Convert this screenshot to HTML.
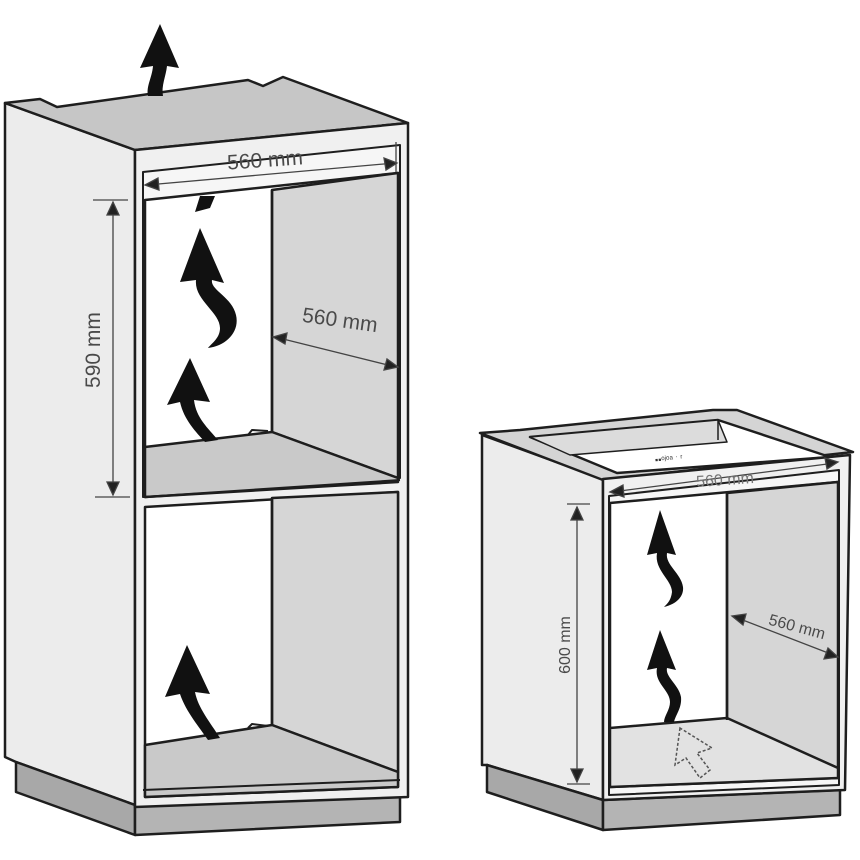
<!DOCTYPE html>
<html><head><meta charset="utf-8"><style>html,body{margin:0;padding:0;background:#fff}svg{display:block}</style></head>
<body>
<svg width="860" height="860" viewBox="0 0 860 860" xmlns="http://www.w3.org/2000/svg" font-family="Liberation Sans, sans-serif">
<g stroke="#1e1e1e" stroke-width="2.5" stroke-linejoin="round" fill="none">
<!-- TALL CABINET -->
<polygon points="5,103 135,150 135,805 16,762 5,757" fill="#ececec"/>
<polygon points="16,762 135,805 135,835 16,792" fill="#a8a8a8"/>
<polygon points="135,805 400,797 400,822 135,835" fill="#b4b4b4"/>
<polygon points="5,103 40,99 57,107 248,80 263,86 283,77 408,123 135,150" fill="#c6c6c6"/>
<polygon points="135,150 408,123 408,797 135,807" fill="#f0f0f0"/>
<polygon points="143,172 400,145 400,478 143,497" fill="#f6f6f6" stroke-width="2"/>
<polygon points="145,200 398,173 398,480 145,497" fill="#fff"/>
<polygon points="272,190 398,173 398,478 272,432" fill="#d6d6d6"/>
<polygon points="145,447 272,432 398,478 398,482 145,497" fill="#c9c9c9"/>
<line x1="272" y1="190" x2="272" y2="432"/>
<polyline points="248,435 252,430 268,431" stroke-width="2"/>
<line x1="143" y1="497" x2="400" y2="480" stroke-width="2"/>
<polygon points="145,507 398,492 398,787 145,797" fill="#fff"/>
<polygon points="272,498 398,492 398,772 272,725" fill="#d6d6d6"/>
<polygon points="145,745 272,725 398,772 398,787 145,797" fill="#c9c9c9"/>
<line x1="272" y1="498" x2="272" y2="725"/>
<polyline points="248,728 252,724 268,726" stroke-width="2"/>
<line x1="143" y1="790" x2="400" y2="780" stroke-width="2"/>
</g>
<g stroke="#444" stroke-width="1.3" fill="#222">
<line x1="147" y1="185" x2="395" y2="163"/>
<polygon points="145,185 158,178 159,190"/>
<polygon points="397,163 384,158 386,170"/>
<line x1="396" y1="142" x2="396" y2="172"/>
<line x1="113" y1="202" x2="113" y2="495"/>
<line x1="93" y1="200" x2="128" y2="200"/>
<line x1="95" y1="497" x2="130" y2="497"/>
<polygon points="113,202 107,215 119,215"/>
<polygon points="113,495 107,482 119,482"/>
<line x1="275" y1="337" x2="396" y2="367"/>
<polygon points="273,337 287,333 285,344"/>
<polygon points="398,367 384,370 387,359"/>
</g>
<g fill="#4a4a4a" font-size="21">
<text x="265" y="167" text-anchor="middle" transform="rotate(-4 265 160)">560 mm</text>
<text x="340" y="327" text-anchor="middle" transform="rotate(8 340 320)">560 mm</text>
<text x="100" y="350" text-anchor="middle" transform="rotate(-90 100 350)">590 mm</text>
</g>
<g fill="#111">
<path d="M160,24 L140,68 L153,66 C152,78 146,86 148,96 L163,96 C161,86 166,76 167,66 L179,68 Z"/>
<polygon points="200,196 215,196 210,208 195,212"/>
<path d="M200,228 L180,282 L196,280 C194,300 220,312 220,328 C220,338 212,343 208,348 C226,346 240,332 236,315 C232,297 210,290 212,280 L224,283 Z"/>
<path d="M190,358 L167,405 L180,402 C184,420 196,432 205,442 L218,440 C208,428 196,418 194,400 L210,402 Z"/>
<path d="M187,645 L165,697 L180,694 C186,712 200,728 208,740 L220,738 C210,722 198,708 195,692 L210,694 Z"/>
</g>
<!-- SMALL CABINET -->
<g stroke="#1e1e1e" stroke-width="2.5" stroke-linejoin="round" fill="none">
<polygon points="482,435 603,479 603,800 487,765 482,765" fill="#ececec"/>
<polygon points="487,765 603,800 603,830 487,792" fill="#a8a8a8"/>
<polygon points="603,800 840,790 840,815 603,830" fill="#b4b4b4"/>
<!-- top frame rails -->
<polygon points="480,433 520,430 713,410 737,410 853,452 603,480" fill="#d4d4d4"/>
<polygon points="530,437 718,420 830,457 617,473" fill="#fff" stroke-width="2.5"/>
<polygon points="530,437 718,420 727,442 570,455" fill="#dcdcdc" stroke-width="1.5"/>
<line x1="718" y1="420" x2="718" y2="440" stroke-width="1.5"/>
<polygon points="603,479 850,455 845,790 603,800" fill="#f0f0f0"/>
<polygon points="609,496 839,470 839,785 609,795" fill="#f6f6f6" stroke-width="2"/>
<polygon points="610,503 838,482 838,778 610,787" fill="#fff"/>
<polygon points="727,493 838,482 838,768 727,720" fill="#d6d6d6"/>
<polygon points="610,728 727,718 838,768 838,778 610,787" fill="#e2e2e2"/>
<line x1="727" y1="493" x2="727" y2="720"/>
</g>
<text x="655" y="463" font-size="9" fill="#333" transform="rotate(-5 655 460)">▪▪ᵒʲᵒᵃ ˑ ʳ</text>
<g stroke="#444" stroke-width="1.3" fill="#222">
<line x1="612" y1="492" x2="835" y2="463"/>
<polygon points="610,492 623,485 624,497"/>
<polygon points="838,462 825,458 827,469"/>
<line x1="577" y1="507" x2="577" y2="782"/>
<line x1="567" y1="504" x2="590" y2="504"/>
<line x1="567" y1="784" x2="590" y2="784"/>
<polygon points="577,507 571,520 583,520"/>
<polygon points="577,782 571,769 583,769"/>
<line x1="735" y1="617" x2="836" y2="656"/>
<polygon points="732,616 746,614 743,625"/>
<polygon points="838,657 824,659 828,648"/>
</g>
<g fill="#4a4a4a" font-size="16">
<text x="725" y="485" text-anchor="middle" transform="rotate(-4 725 480)" fill="#777">560 mm</text>
<text x="797" y="632" text-anchor="middle" transform="rotate(15 797 627)">560 mm</text>
<text x="570" y="645" text-anchor="middle" transform="rotate(-90 570 645)">600 mm</text>
</g>
<g fill="#111">
<path d="M660,510 L647,555 L657,553 C654,570 672,580 672,592 C671,600 668,603 664,607 C677,604 684,596 683,587 C681,573 665,565 667,553 L676,555 Z"/>
<path d="M660,630 L647,670 L657,668 C654,683 670,690 670,702 C670,710 664,716 664,722 L674,722 C676,714 682,708 681,697 C679,685 665,677 667,668 L676,670 Z"/>
</g>
<polygon points="680,728 675,765 686,758 700,778 710,770 697,753 712,748" fill="none" stroke="#555" stroke-width="1.5" stroke-dasharray="3,2"/>
</svg>
</body></html>
